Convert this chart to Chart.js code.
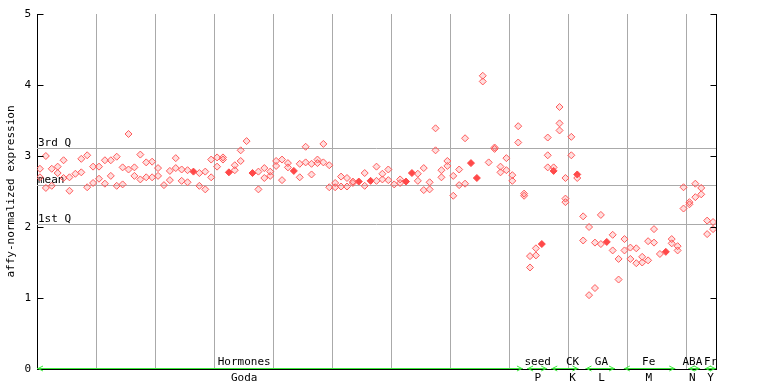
<!DOCTYPE html>
<html><head><meta charset="utf-8">
<script src="https://cdn.jsdelivr.net/npm/chart.js@4/dist/chart.umd.min.js"></script>
<style>html,body{margin:0;padding:0;background:#fff}#wrap{width:768px;height:384px}</style>
</head><body><div id="wrap"><canvas id="c" width="768" height="384"></canvas></div>
<script>
// hollow-marker replicate values per sample (null = none)
const rep1 = [2.82,3.00,2.82,2.85,2.94,2.70,2.75,2.96,3.01,2.85,2.85,2.94,2.94,2.99,2.84,3.31,2.84,3.02,2.91,2.92,
 2.83,2.59,2.79,2.97,2.81,2.80,null,2.76,2.78,2.95,2.98,2.98,null,2.87,3.08,3.21,null,2.78,2.83,2.78,
 2.93,2.95,2.90,null,2.89,3.13,2.89,2.95,3.17,2.87,2.62,2.71,2.69,2.64,null,2.76,null,2.85,2.75,2.81,
 2.60,2.67,null,null,2.75,2.83,2.63,3.39,2.80,2.93,2.72,2.81,3.25,null,null,4.13,2.91,3.12,2.85,2.97,
 2.73,3.42,2.47,1.59,1.70,null,3.26,2.84,3.69,2.69,3.27,2.69,2.15,2.00,1.78,2.17,null,1.89,1.55,1.83,
 1.71,1.70,1.58,1.80,1.97,1.62,null,1.83,1.73,2.56,2.35,2.61,2.55,2.09,2.07];
const rep2 = [2.70,2.55,2.58,2.76,2.69,2.51,null,2.77,2.56,2.62,2.68,2.61,2.72,2.58,2.60,2.81,2.72,2.67,2.70,2.70,
 2.72,null,2.66,2.83,2.65,2.63,null,2.58,2.53,2.70,2.85,2.95,null,2.80,2.93,null,null,2.53,2.69,2.72,
 2.86,2.66,2.84,null,2.70,2.91,2.74,2.90,2.91,2.56,2.56,2.57,2.57,2.62,null,2.58,null,2.65,2.67,2.66,
 null,2.62,null,null,2.65,2.52,2.53,3.08,2.70,2.86,2.44,2.59,2.61,null,null,4.05,null,3.10,2.77,2.80,
 2.65,3.19,2.44,1.43,1.60,null,3.01,null,3.46,2.40,3.01,null,1.81,1.04,1.14,1.76,null,1.67,1.26,1.67,
 1.55,1.49,1.50,1.53,1.78,null,null,1.77,1.67,2.26,2.32,2.42,2.46,1.90,1.97];
const rep3Index = [86, 88, 89];
const rep3Values = [2.84, 3.36, 2.35];
// solid-marker samples
const filledIndex = [26,32,36,43,54,56,62,63,73,74,85,87,91,96,106];
const filledValues = [2.78,2.77,2.76,2.79,2.64,2.65,2.64,2.76,2.90,2.69,1.76,2.79,2.74,1.79,1.65];

const quartileNames = ['3rd Q','mean','1st Q'];
const quartileValues = [3.11, 2.59, 2.04];

const groupNames = ['Hormones','seed','CK','GA','Fe','ABA','Fr'];
const groupSubNames = ['Goda','P','K','L','M','N','Y'];
const groupStart = [0, 83.0, 87.1, 92.9, 99.4, 110.3, 113.1];
const groupEnd = [82.3, 86.4, 91.7, 97.9, 108.1, 112.3, 115];
const groupLabelAt = [35.1, 84.8, 90.7, 95.6, 103.6, 111.0, 114.1];

const yTicks = [0,1,2,3,4,5];
const yTitle = 'affy-normalized expression';

const FONT = '"DejaVu Sans Mono", monospace';
const RED = '#ff5a5a';

function pts(arr){ const o=[]; arr.forEach((v,i)=>{ if(v!==null) o.push({x:i+0.5,y:v}); }); return o; }
function ptsIdx(idx, vals){ return idx.map((i,k)=>({x:i+0.5,y:vals[k]})); }

const annot = {
  id:'annot',
  beforeDatasetsDraw(chart){
    const {ctx, chartArea:a, scales:{y}} = chart;
    ctx.save();
    ctx.strokeStyle='#aaaaaa'; ctx.lineWidth=1;
    ctx.font='11px '+FONT; ctx.fillStyle='#000'; ctx.textAlign='left'; ctx.textBaseline='alphabetic';
    quartileValues.forEach((v,i)=>{
      const py=Math.round(y.getPixelForValue(v))+0.5;
      ctx.beginPath(); ctx.moveTo(a.left,py); ctx.lineTo(a.right,py); ctx.stroke();
      ctx.fillText(quartileNames[i], a.left+1, py-2.5);
    });
    ctx.restore();
  },
  afterDraw(chart){
    const {ctx, chartArea:a, scales:{x,y}} = chart;
    ctx.save();
    ctx.strokeStyle='#000'; ctx.lineWidth=1;
    const rx=Math.round(a.right)+0.5, lx=Math.round(a.left)+0.5;
    ctx.beginPath(); ctx.moveTo(rx,a.top); ctx.lineTo(rx,a.bottom); ctx.stroke();
    yTicks.forEach(t=>{
      const py=Math.round(y.getPixelForValue(t))+0.5;
      ctx.beginPath(); ctx.moveTo(lx,py); ctx.lineTo(lx+6,py); ctx.moveTo(rx-6,py); ctx.lineTo(rx,py); ctx.stroke();
    });
    // green group arrows
    const gy=Math.round(a.bottom)-0.5;
    ctx.strokeStyle='#3de83d';
    groupStart.forEach((s,i)=>{
      const xs=x.getPixelForValue(s), xe=x.getPixelForValue(groupEnd[i]);
      ctx.beginPath(); ctx.moveTo(xs,gy); ctx.lineTo(xe,gy);
      ctx.moveTo(xs+6,gy-2.5); ctx.lineTo(xs+1,gy); ctx.lineTo(xs+6,gy+2.5);
      ctx.moveTo(xe-6,gy-2.5); ctx.lineTo(xe-1,gy); ctx.lineTo(xe-6,gy+2.5);
      ctx.stroke();
    });
    ctx.font='11px '+FONT; ctx.fillStyle='#000'; ctx.textAlign='center'; ctx.textBaseline='alphabetic';
    groupNames.forEach((n,i)=>{
      const px=x.getPixelForValue(groupLabelAt[i]);
      ctx.fillText(n, px, a.bottom-4);
      ctx.fillText(groupSubNames[i], px, a.bottom+12);
    });
    ctx.restore();
  }
};

new Chart(document.getElementById('c'), {
  type:'scatter',
  data:{datasets:[
    {data:pts(rep1), pointStyle:'rectRot', pointRadius:3.5, borderWidth:1, borderColor:RED, backgroundColor:'rgba(255,90,90,0.2)'},
    {data:pts(rep2), pointStyle:'rectRot', pointRadius:3.5, borderWidth:1, borderColor:RED, backgroundColor:'rgba(255,90,90,0.2)'},
    {data:ptsIdx(rep3Index,rep3Values), pointStyle:'rectRot', pointRadius:3.5, borderWidth:1, borderColor:RED, backgroundColor:'rgba(255,90,90,0.2)'},
    {data:ptsIdx(filledIndex,filledValues), pointStyle:'rectRot', pointRadius:3.5, borderWidth:1, borderColor:'#ff4848', backgroundColor:'#ff4848'}
  ]},
  options:{
    responsive:false, devicePixelRatio:1, animation:false,
    layout:{padding:{left:0,right:52,top:14,bottom:0}},
    plugins:{legend:{display:false}, tooltip:{enabled:false}},
    scales:{
      x:{type:'linear', min:0, max:115,
         ticks:{display:false, stepSize:10, includeBounds:false},
         grid:{color:'#aaaaaa', drawTicks:false},
         border:{display:true, color:'#000'},
         afterFit(s){ s.height=15; }},
      y:{type:'linear', min:0, max:5,
         ticks:{stepSize:1, color:'#000', padding:6, font:{family:FONT, size:11}},
         grid:{display:false, drawTicks:false},
         border:{display:true, color:'#000'},
         title:{display:true, text:yTitle, color:'#000', font:{family:FONT, size:11}, padding:{top:5,bottom:0}},
         afterFit(s){ s.width=37; }}
    }
  },
  plugins:[annot]
});
</script>
</body></html>
